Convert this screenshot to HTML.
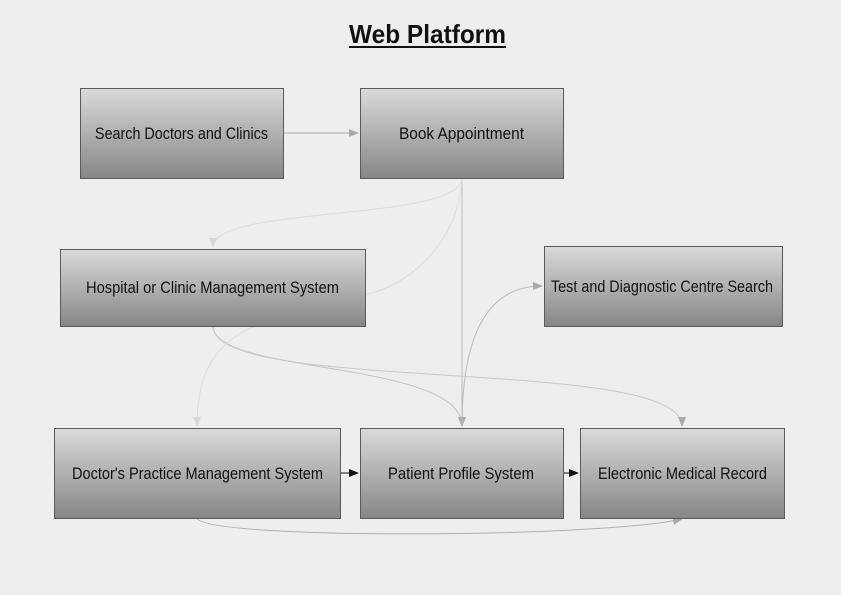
<!DOCTYPE html>
<html><head><meta charset="utf-8"><style>
html,body{margin:0;padding:0;background:#eeeeee;}
svg{display:block;}
text{font-family:"Liberation Sans",sans-serif;}
</style></head><body>
<svg width="841" height="595" viewBox="0 0 841 595" xmlns="http://www.w3.org/2000/svg">
<defs>
<linearGradient id="g" x1="0" y1="0" x2="0" y2="1">
<stop offset="0" stop-color="#dadada"/><stop offset="1" stop-color="#868686"/>
</linearGradient>
<marker id="a1" markerWidth="10" markerHeight="8" refX="9" refY="4" orient="auto" markerUnits="userSpaceOnUse"><path d="M0,0 L10,4 L0,8z" fill="#aaa"/></marker>
<marker id="a2" markerWidth="10" markerHeight="8" refX="9" refY="4" orient="auto" markerUnits="userSpaceOnUse"><path d="M0,0 L10,4 L0,8z" fill="#d8d8d8"/></marker>
<marker id="a3" markerWidth="10" markerHeight="8" refX="9" refY="4" orient="auto" markerUnits="userSpaceOnUse"><path d="M0,0 L10,4 L0,8z" fill="#111"/></marker>
<marker id="a4" markerWidth="10" markerHeight="8" refX="9" refY="4" orient="auto" markerUnits="userSpaceOnUse"><path d="M0,0 L10,4 L0,8z" fill="#aaa"/></marker>
</defs>
<rect width="841" height="595" fill="#eeeeee"/>
<text x="349" y="43" font-size="26" font-weight="bold" fill="#111" textLength="157" lengthAdjust="spacingAndGlyphs">Web Platform</text>
<rect x="349" y="46" width="157" height="2" fill="#111"/>

<g fill="none" stroke-width="1">
<path d="M283,133 L358,133" stroke="#aaa" marker-end="url(#a1)"/>
<path d="M462,178 C462,222 213,205 213,247" stroke="#dcdcdc" marker-end="url(#a2)"/>
<path d="M462,178 L462,426" stroke="#bbb" marker-end="url(#a4)"/>
<path d="M365,295 C420,282 460,232 462,178" stroke="#dcdcdc"/>
<path d="M213,326 C213,375 462,360 462,426" stroke="#c4c4c4" marker-end="url(#a4)"/>
<path d="M213,326 C213,395 682,355 682,426" stroke="#c8c8c8" marker-end="url(#a4)"/>
<path d="M255,326 C210,345 197,380 197,426" stroke="#dcdcdc" marker-end="url(#a2)"/>
<path d="M462,426 C462,330 490,286 542,286" stroke="#bbb" marker-end="url(#a4)"/>
<path d="M340,473 L358,473" stroke="#111" marker-end="url(#a3)"/>
<path d="M563,473 L578,473" stroke="#111" marker-end="url(#a3)"/>
<path d="M197,518 C205,540 600,538 682,519" stroke="#b0b0b0" marker-end="url(#a4)"/>
</g>

<g stroke="#5a5a5a" fill="url(#g)">
<rect x="80.5" y="88.5" width="203" height="90"/>
<rect x="360.5" y="88.5" width="203" height="90"/>
<rect x="60.5" y="249.5" width="305" height="77"/>
<rect x="544.5" y="246.5" width="238" height="80"/>
<rect x="54.5" y="428.5" width="286" height="90"/>
<rect x="360.5" y="428.5" width="203" height="90"/>
<rect x="580.5" y="428.5" width="204" height="90"/>
</g>
<g font-size="17" fill="#111" lengthAdjust="spacingAndGlyphs">
<text x="95" y="139" textLength="173" lengthAdjust="spacingAndGlyphs">Search Doctors and Clinics</text>
<text x="399" y="139" textLength="125" lengthAdjust="spacingAndGlyphs">Book Appointment</text>
<text x="86" y="293" textLength="253" lengthAdjust="spacingAndGlyphs">Hospital or Clinic Management System</text>
<text x="551" y="292" textLength="222" lengthAdjust="spacingAndGlyphs">Test and Diagnostic Centre Search</text>
<text x="72" y="479" textLength="251" lengthAdjust="spacingAndGlyphs">Doctor's Practice Management System</text>
<text x="388" y="479" textLength="146" lengthAdjust="spacingAndGlyphs">Patient Profile System</text>
<text x="598" y="479" textLength="169" lengthAdjust="spacingAndGlyphs">Electronic Medical Record</text>
</g>
</svg>
</body></html>
